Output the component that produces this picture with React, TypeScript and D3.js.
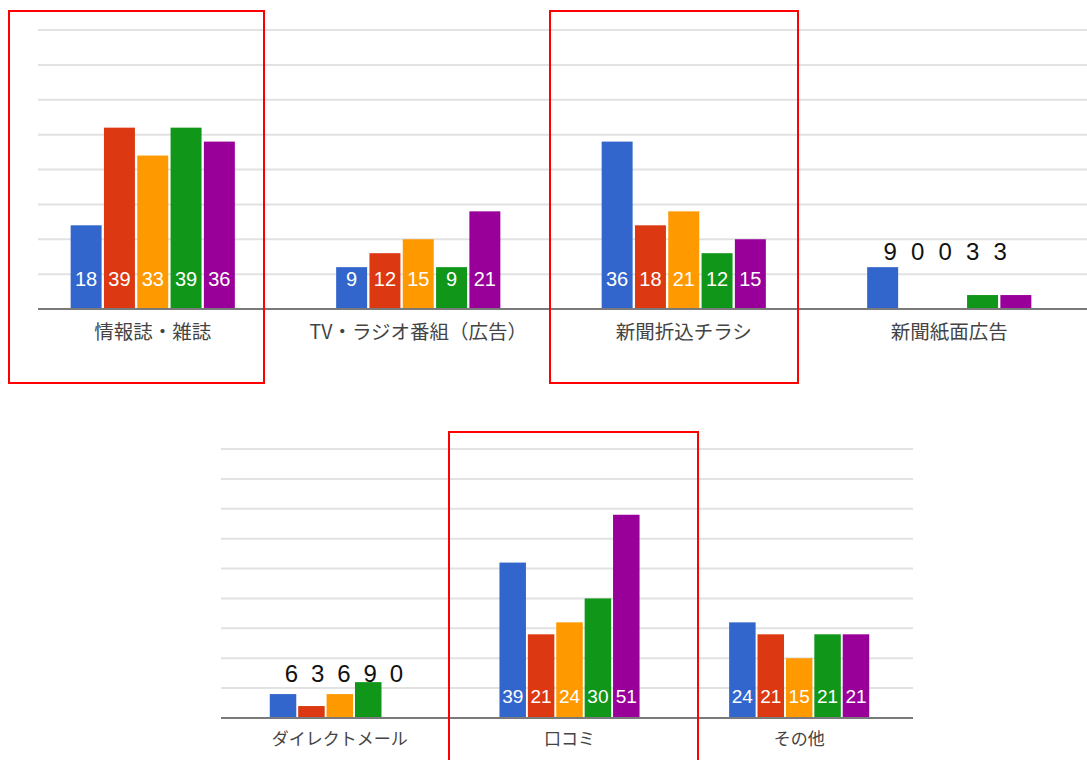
import React from "react";
import * as d3 from "d3";

const series = ["s1", "s2", "s3", "s4", "s5"];
const colors = ["#3366CC", "#DC3912", "#FF9900", "#109618", "#990099"];

const topCategories = ["情報誌・雑誌", "TV・ラジオ番組（広告）", "新聞折込チラシ", "新聞紙面広告"];
const topValues = [
  [18, 39, 33, 39, 36],
  [9, 12, 15, 9, 21],
  [36, 18, 21, 12, 15],
  [9, 0, 0, 3, 3],
];
const topAnnotated = [false, false, false, true];

const bottomCategories = ["ダイレクトメール", "口コミ", "その他"];
const bottomValues = [
  [6, 3, 6, 9, 0],
  [39, 21, 24, 30, 51],
  [24, 21, 15, 21, 21],
];
const bottomAnnotated = [true, false, false];

const gridStep = 7.5;

type PanelProps = {
  cats: string[];
  values: number[][];
  annotated: boolean[];
  xRange: [number, number];
  gridX: [number, number];
  yBase: number;
  yTop: number;
  yMax: number;
  groupWidth: number;
  pad: number;
  valueFont: number;
  valueOffset: number;
  catFont: number;
  catBaseline: number;
  annoFont: number;
  annoBaseline: number;
  annoStep: number;
  annoShift: number;
};

function Panel(p: PanelProps) {
  const x0 = d3.scaleBand<string>().domain(p.cats).range(p.xRange).padding(0);
  const x1 = d3
    .scaleBand<string>()
    .domain(series)
    .range([0, p.groupWidth])
    .paddingInner(p.pad)
    .paddingOuter(0);
  const y = d3.scaleLinear().domain([0, p.yMax]).range([p.yBase, p.yTop]);
  const ticks = d3.range(gridStep, p.yMax + 0.001, gridStep);
  const off = (x0.bandwidth() - p.groupWidth) / 2;
  return (
    <g>
      {ticks.map((t) => (
        <line
          key={t}
          x1={p.gridX[0]}
          x2={p.gridX[1]}
          y1={y(t)}
          y2={y(t)}
          stroke="#e2e2e2"
          strokeWidth={2}
        />
      ))}
      {p.cats.map((c, ci) => {
        const gx = (x0(c) as number) + off;
        const center = (x0(c) as number) + x0.bandwidth() / 2;
        return (
          <g key={c}>
            {series.map((s, si) => {
              const v = p.values[ci][si];
              if (v <= 0) return null;
              const bx = gx + (x1(s) as number);
              return (
                <rect
                  key={s}
                  x={bx}
                  y={y(v)}
                  width={x1.bandwidth()}
                  height={p.yBase - y(v)}
                  fill={colors[si]}
                />
              );
            })}
            {!p.annotated[ci] &&
              series.map((s, si) => {
                const v = p.values[ci][si];
                const bx = gx + (x1(s) as number) + x1.bandwidth() / 2;
                return (
                  <text
                    key={"l" + s}
                    x={bx}
                    y={p.yBase - p.valueOffset}
                    textAnchor="middle"
                    fill="#ffffff"
                    fontSize={p.valueFont}
                    fontFamily="'Liberation Sans', Arial, sans-serif"
                  >
                    {v}
                  </text>
                );
              })}
            {p.annotated[ci] &&
              series.map((s, si) => (
                <text
                  key={"a" + s}
                  x={center + p.annoShift + (si - 2) * p.annoStep}
                  y={p.annoBaseline}
                  textAnchor="middle"
                  fill="#111"
                  fontSize={p.annoFont}
                  fontFamily="'Liberation Sans', Arial, sans-serif"
                >
                  {p.values[ci][si]}
                </text>
              ))}
            <text
              x={center}
              y={p.catBaseline}
              textAnchor="middle"
              fill="#444"
              fontSize={p.catFont}
              fontFamily="'Noto Sans CJK JP', 'Liberation Sans', sans-serif"
            >
              {c}
            </text>
          </g>
        );
      })}
      <line
        x1={p.gridX[0]}
        x2={p.gridX[1]}
        y1={p.yBase}
        y2={p.yBase}
        stroke="#7a7a7a"
        strokeWidth={2}
      />
    </g>
  );
}

export default function App() {
  return (
    <svg
      width={1087}
      height={760}
      style={{ position: "absolute", left: 0, top: 0, background: "#fff" }}
    >
      <rect x={0} y={0} width={1087} height={760} fill="#fff" />
      <Panel
        cats={topCategories}
        values={topValues}
        annotated={topAnnotated}
        xRange={[20, 1082]}
        gridX={[38, 1087]}
        yBase={309}
        yTop={30}
        yMax={60}
        groupWidth={164.2}
        pad={0.07}
        valueFont={20}
        valueOffset={23}
        catFont={19.5}
        catBaseline={339}
        annoFont={24}
        annoBaseline={260}
        annoStep={27.5}
        annoShift={-4}
      />
      <Panel
        cats={bottomCategories}
        values={bottomValues}
        annotated={bottomAnnotated}
        xRange={[225, 914]}
        gridX={[221, 913]}
        yBase={718}
        yTop={449}
        yMax={67.5}
        groupWidth={140.1}
        pad={0.067}
        valueFont={19}
        valueOffset={15}
        catFont={17}
        catBaseline={745}
        annoFont={24}
        annoBaseline={682}
        annoStep={26.25}
        annoShift={4}
      />
      <rect x={9} y={11} width={255} height={372} fill="none" stroke="#ff0000" strokeWidth={2} />
      <rect x={550} y={11} width={248} height={372} fill="none" stroke="#ff0000" strokeWidth={2} />
      <rect x={449} y={432} width={249} height={340} fill="none" stroke="#ff0000" strokeWidth={2} />
    </svg>
  );
}
